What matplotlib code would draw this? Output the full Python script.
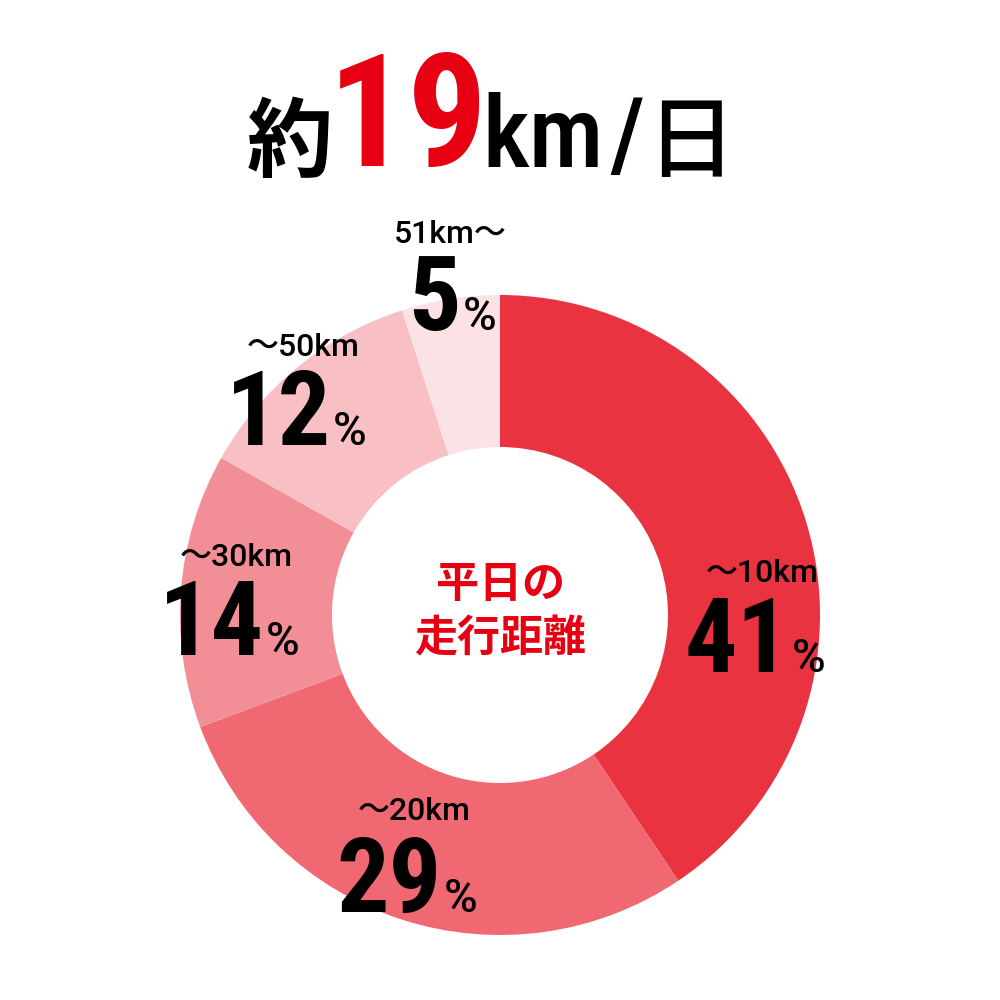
import matplotlib
matplotlib.use("Agg")
import matplotlib.pyplot as plt

# share of weekday driving distance
ranges = ["〜10km", "〜20km", "〜30km", "〜50km", "51km〜"]
shares = [41, 29, 14, 12, 5]
colors = ["#E93341", "#EF6872", "#F28E96", "#F8BFC4", "#FCE2E5"]

title_value = "19"
center_label = "平日の\n走行距離"

COND_FONT = ["Roboto Condensed", "Roboto", "DejaVu Sans"]
NUM_FONT = ["Roboto", "DejaVu Sans"]
JP_FONT = ["Noto Sans CJK JP", "DejaVu Sans"]
RED = "#E60012"

fig = plt.figure(figsize=(10, 10), dpi=100)
ax = fig.add_axes([0, 0, 1, 1])


def py(y):
    # pixel row (from top) -> data y
    return 1000 - y


ax.pie(shares, colors=colors, startangle=90, counterclock=False,
       center=(500, py(615)), radius=320,
       wedgeprops=dict(width=320 - 168, linewidth=0))
ax.set_xlim(0, 1000)
ax.set_ylim(0, 1000)
ax.set_aspect("equal")
ax.axis("off")

# title "約19km/日"
ax.text(290, py(170), "約", family=JP_FONT, fontsize=62, fontweight="bold",
        ha="center", va="baseline")
ax.text(408, py(166), title_value, family=COND_FONT, fontsize=114, fontweight="bold",
        color=RED, ha="center", va="baseline")
ax.text(543, py(167), "km", family=COND_FONT, fontsize=72, fontweight="medium",
        ha="center", va="baseline")
ax.text(627, py(169), "/", family=COND_FONT, fontsize=72, fontweight="medium",
        ha="center", va="baseline")
ax.text(691, py(170), "日", family=JP_FONT, fontsize=64, fontweight="medium",
        ha="center", va="baseline")

# centre label
ax.text(500, py(611), center_label, family=JP_FONT, fontsize=31, fontweight="bold",
        color=RED, ha="center", va="center", linespacing=1.3)

# slice labels: (range x, range y, split x, baseline y)
label_pos = [
    (762, 582, 790, 672),
    (414, 820, 442, 912),
    (236, 566, 264, 655),
    (303, 356, 331, 445),
    (450, 243, 461, 330),
]
for rng, val, (rx, ry, sx, by) in zip(ranges, shares, label_pos):
    ax.text(rx, py(ry), rng, family=NUM_FONT + JP_FONT, fontsize=23, fontweight="medium",
            ha="center", va="baseline")
    ax.text(sx, py(by), str(val), family=COND_FONT, fontsize=75, fontweight="bold",
            ha="right", va="baseline")
    ax.text(sx + 2, py(by), "%", family=NUM_FONT, fontsize=33, fontweight="medium",
            ha="left", va="baseline")

fig.savefig("out.png", dpi=100, facecolor="white")
